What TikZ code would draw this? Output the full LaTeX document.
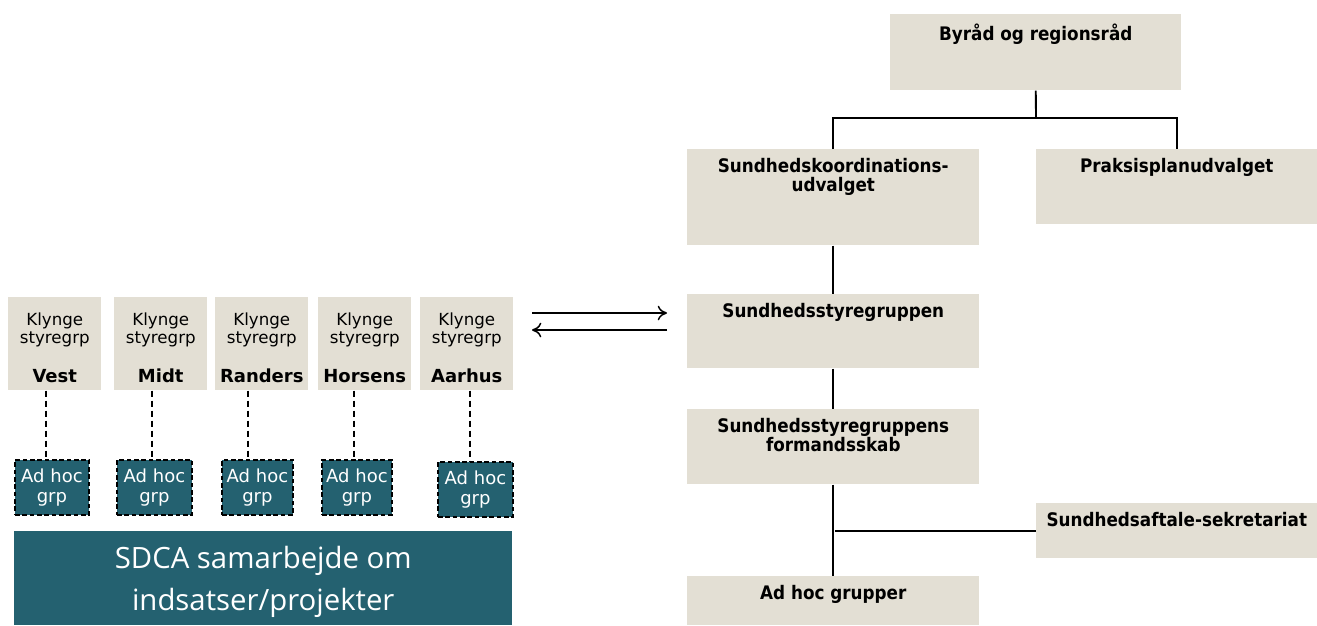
\documentclass[tikz,border=0pt]{standalone}
\usepackage{fontspec}
\setmainfont{DejaVu Sans}
\newfontfamily\rfont{DejaVu Sans Condensed}
\newfontfamily\sdcafont{Open Sans}
\usetikzlibrary{arrows.meta}
\definecolor{beige}{HTML}{E3DFD4}
\definecolor{teal}{HTML}{246170}
\tikzset{
  rbox/.style={fill=beige, draw=none, inner sep=0pt, anchor=north west},
  rlbl/.style={font=\rfont\fontsize{14}{14}\selectfont\bfseries, align=center, anchor=north, inner sep=0pt},
  kbox/.style={fill=beige, draw=none, inner sep=0pt, anchor=north west, minimum width=93*0.75pt, minimum height=93*0.75pt},
  klbl/.style={font=\fontsize{12.5}{13.5}\selectfont, align=center, anchor=north, inner sep=0pt},
  adbox/.style={fill=teal, draw=black, dash pattern=on 3.5pt off 2pt, line width=1.4pt, inner sep=0pt, anchor=north west,
     text=white, font=\fontsize{13.5}{15}\selectfont, align=center},
  conn/.style={line width=1.4pt},
  dconn/.style={line width=1.3pt, dash pattern=on 4.5pt off 3pt},
  arr/.style={line width=1.1pt, -{To[length=7pt,width=11pt]}},
}
\begin{document}
\begin{tikzpicture}[x=0.75pt, y=-0.75pt]
\useasboundingbox (0,0) rectangle (1317,625);
% right side
\node[rbox, minimum width=291*0.75pt, minimum height=76*0.75pt] (byr) at (890,14) {};
\node[rlbl] at ([yshift=-7pt]byr.north) {Byråd og regionsråd};
\node[rbox, minimum width=292*0.75pt, minimum height=96*0.75pt] (suk) at (687,149) {};
\node[rlbl] at ([yshift=-7pt]suk.north) {Sundhedskoordinations-\\udvalget};
\node[rbox, minimum width=281*0.75pt, minimum height=75*0.75pt] (pra) at (1036,149) {};
\node[rlbl] at ([yshift=-7pt]pra.north) {Praksisplanudvalget};
\node[rbox, minimum width=292*0.75pt, minimum height=74*0.75pt] (ssg) at (687,294) {};
\node[rlbl] at ([yshift=-7pt]ssg.north) {Sundhedsstyregruppen};
\node[rbox, minimum width=292*0.75pt, minimum height=75*0.75pt] (for) at (687,409) {};
\node[rlbl] at ([yshift=-7pt]for.north) {Sundhedsstyregruppens\\formandsskab};
\node[rbox, minimum width=281*0.75pt, minimum height=55*0.75pt] (sek) at (1036,503) {};
\node[rlbl] at ([yshift=-7pt]sek.north) {Sundhedsaftale-sekretariat};
\node[rbox, minimum width=292*0.75pt, minimum height=49*0.75pt] (adh) at (687,576) {};
\node[rlbl] at ([yshift=-7pt]adh.north) {Ad hoc grupper};
% connectors
\coordinate (j1) at (1036,118);
\draw[conn] (byr.south) -- (j1);
\draw[conn] (suk.north) |- (j1) -| (pra.north);
\draw[conn] (suk.south) -- (ssg.north);
\draw[conn] (ssg.south) -- (for.north);
\draw[conn] (for.south) -- (adh.north);
\coordinate (j2) at (835,531);
\draw[conn] (j2) -- (sek.west |- j2);
% arrows
\coordinate (a1) at (532,313);
\coordinate (a2) at (667,313);
\coordinate (b1) at (667,330);
\coordinate (b2) at (532,330);
\draw[arr] (a1) -- (a2);
\draw[arr] (b1) -- (b2);
% left side
\foreach \i/\x/\ax/\ay/\aw/\nm in {1/8/14/459/74/Vest, 2/114/116/459/75/Midt, 3/215/221/459/71/Randers, 4/318/321/459/70/Horsens, 5/420/437/461/75/Aarhus}{
  \node[kbox] (k\i) at (\x,297) {};
  \node[klbl] at ([yshift=-11.5pt]k\i.north) {Klynge\\styregrp\\[16pt]{\fontsize{13.5}{13.5}\selectfont\bfseries\nm}};
  \node[adbox, minimum width=\aw*0.75pt, minimum height=55*0.75pt] (g\i) at (\ax,\ay) {Ad hoc\\grp};
}
\draw[dconn] (k1.south -| 46,0) -- (g1.north -| 46,0);
\draw[dconn] (k2.south -| 152,0) -- (g2.north -| 152,0);
\draw[dconn] (k3.south -| 248,0) -- (g3.north -| 248,0);
\draw[dconn] (k4.south -| 354,0) -- (g4.north -| 354,0);
\draw[dconn] (k5.south -| 470,0) -- (g5.north -| 470,0);
\node[fill=teal, inner sep=0pt, anchor=north west, minimum width=498*0.75pt, minimum height=94*0.75pt] (sdca) at (14,531) {};
\node[font=\sdcafont\fontsize{22}{31.5}\selectfont, text=white, align=center, anchor=north, inner sep=0pt] at ([yshift=-11.5pt]sdca.north) {SDCA samarbejde om\\indsatser/projekter};
\end{tikzpicture}
\end{document}
